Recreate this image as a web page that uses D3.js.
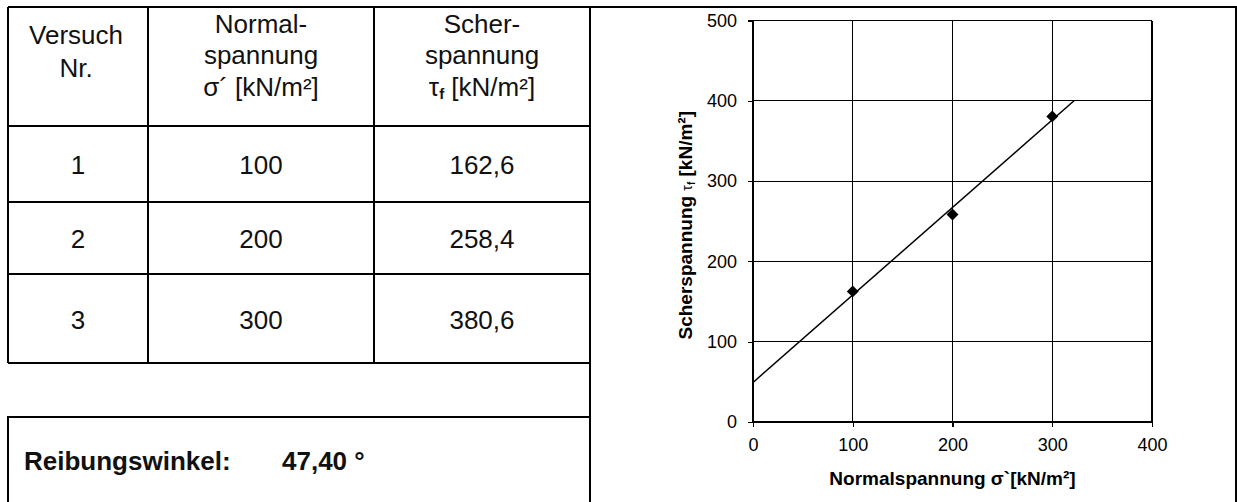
<!DOCTYPE html>
<html>
<head>
<meta charset="utf-8">
<script src="https://cdn.jsdelivr.net/npm/d3@7"></script>
<style>
  body { margin: 0; background: #fff; }
  svg { display: block; font-family: "Liberation Sans", Arial, sans-serif; }
  .frame { stroke: #000; stroke-width: 1.5; fill: none; shape-rendering: crispEdges; }
  .grid line { stroke: #000; stroke-width: 1.2; shape-rendering: crispEdges; }
  .axis path, .axis line { stroke: #000; stroke-width: 1.2; shape-rendering: crispEdges; }
  .axis text { font-size: 18px; fill: #000; }
  .cell { font-size: 26px; fill: #111; }
</style>
</head>
<body>
<svg id="chart" width="1237" height="502"></svg>
<script>
// Versuchsergebnisse (Rahmenscherversuch)
var versuchNr = ['1', '2', '3'];
var normalspannung = [100, 200, 300];
var scherspannung = [162.6, 258.4, 380.6];
var reibungswinkel = 47.40;

var headerLines = [
  ['Versuch', 'Nr.'],
  ['Normal-', 'spannung', 'σ´ [kN/m²]'],
  ['Scher-', 'spannung', 'τf [kN/m²]']
];

var xTicks = [0, 100, 200, 300, 400];
var yTicks = [0, 100, 200, 300, 400, 500];
var trendTop = 400; // Ausgleichsgerade endet bei tau = 400

var de = d3.formatLocale({decimal: ',', thousands: '.', grouping: [3], currency: ['', ' €']});
var fmt1 = de.format('.1f');
var fmt2 = de.format('.2f');

var svg = d3.select('#chart');

/*
 table
*/
var colX = [8, 148, 374, 590];
var rowY = [7, 126, 202, 274, 363];

var tbl = svg.append('g').attr('class', 'table');

// outer lines of the sheet
svg.append('line').attr('class', 'frame')
  .attr('x1', 8).attr('y1', 7).attr('x2', 1237).attr('y2', 7);
svg.append('line').attr('class', 'frame')
  .attr('x1', colX[3]).attr('y1', 7).attr('x2', colX[3]).attr('y2', 502);
svg.append('line').attr('class', 'frame')
  .attr('x1', 1236).attr('y1', 7).attr('x2', 1236).attr('y2', 502);

tbl.selectAll('.hline')
  .data(rowY)
  .enter().append('line')
  .attr('class', 'frame')
  .attr('x1', colX[0]).attr('x2', colX[3])
  .attr('y1', function(d) { return d; })
  .attr('y2', function(d) { return d; });

tbl.selectAll('.vline')
  .data(colX.slice(0, 3))
  .enter().append('line')
  .attr('class', 'frame')
  .attr('x1', function(d) { return d; })
  .attr('x2', function(d) { return d; })
  .attr('y1', rowY[0]).attr('y2', rowY[4]);

var headerBase = [[44, 77], [33, 64, 96], [33, 64, 96]];
var headerX = [76, 261, 482];

headerLines.forEach(function(lines, c) {
  lines.forEach(function(txt, i) {
    var t = tbl.append('text')
      .attr('class', 'cell')
      .attr('x', headerX[c])
      .attr('y', headerBase[c][i])
      .attr('text-anchor', 'middle');
    if (txt.indexOf('τf') === 0) {
      t.append('tspan').text('τ');
      t.append('tspan').attr('font-size', 15).attr('font-weight', 'bold').attr('dy', 3).text('f');
      t.append('tspan').attr('dy', -3).text(txt.slice(2));
    } else {
      t.text(txt);
    }
  });
});

var rows = versuchNr.map(function(nr, i) {
  return [nr, String(normalspannung[i]), fmt1(scherspannung[i])];
});

rows.forEach(function(r, i) {
  var cy = (rowY[i + 1] + rowY[i + 2]) / 2;
  r.forEach(function(txt, c) {
    tbl.append('text')
      .attr('class', 'cell')
      .attr('x', (colX[c] + colX[c + 1]) / 2)
      .attr('y', cy + 10)
      .attr('text-anchor', 'middle')
      .text(txt);
  });
});

// Reibungswinkel box
svg.append('path').attr('class', 'frame')
  .attr('d', 'M8,502V417H' + colX[3]);

svg.append('text')
  .attr('x', 24).attr('y', 470)
  .attr('font-size', 26).attr('font-weight', 'bold').attr('fill', '#111')
  .text('Reibungswinkel:');
svg.append('text')
  .attr('x', 282).attr('y', 470)
  .attr('font-size', 26).attr('font-weight', 'bold').attr('fill', '#111')
  .text(fmt2(reibungswinkel) + ' °');

/*
 diagram
*/
var x = d3.scaleLinear().domain([0, 400]).range([753, 1152]);
var y = d3.scaleLinear().domain([0, 500]).range([422, 20.5]);

var plot = svg.append('g').attr('class', 'plot');

plot.append('g').attr('class', 'grid')
  .selectAll('line.gx')
  .data(xTicks)
  .enter().append('line')
  .attr('x1', function(d) { return x(d); })
  .attr('x2', function(d) { return x(d); })
  .attr('y1', y(0)).attr('y2', y(500));

plot.select('.grid')
  .selectAll('line.gy')
  .data(yTicks)
  .enter().append('line')
  .attr('class', 'gy')
  .attr('x1', x(0)).attr('x2', x(400))
  .attr('y1', function(d) { return y(d); })
  .attr('y2', function(d) { return y(d); });

plot.append('g').attr('class', 'axis')
  .attr('transform', 'translate(0,' + y(0) + ')')
  .call(d3.axisBottom(x).tickValues(xTicks).tickSize(5).tickPadding(11).tickSizeOuter(0));

plot.append('g').attr('class', 'axis')
  .attr('transform', 'translate(' + x(0) + ',0)')
  .call(d3.axisLeft(y).tickValues(yTicks).tickSize(5).tickPadding(11).tickSizeOuter(0));

// regression line tau = c + tan(phi) * sigma
var mx = d3.mean(normalspannung), my = d3.mean(scherspannung);
var sxy = d3.sum(normalspannung, function(d, i) { return (d - mx) * (scherspannung[i] - my); });
var sxx = d3.sum(normalspannung, function(d) { return (d - mx) * (d - mx); });
var slope = sxy / sxx;
var icpt = my - slope * mx;
var trend = [[0, icpt], [(trendTop - icpt) / slope, trendTop]];

plot.append('path')
  .datum(trend)
  .attr('fill', 'none')
  .attr('stroke', '#000')
  .attr('stroke-width', 1.5)
  .attr('d', d3.line()
    .x(function(d) { return x(d[0]); })
    .y(function(d) { return y(d[1]); }));

plot.selectAll('.pt')
  .data(normalspannung)
  .enter().append('path')
  .attr('class', 'pt')
  .attr('transform', function(d, i) { return 'translate(' + x(d) + ',' + y(scherspannung[i]) + ')'; })
  .attr('d', d3.symbol().type(d3.symbolDiamond2).size(90))
  .attr('fill', '#000');

// axis titles
svg.append('text')
  .attr('x', (x(0) + x(400)) / 2).attr('y', 485)
  .attr('text-anchor', 'middle')
  .attr('font-size', 19).attr('font-weight', 'bold')
  .text('Normalspannung  σ`[kN/m²]');

var yt = svg.append('text')
  .attr('transform', 'translate(692,' + ((y(0) + y(500)) / 2 + 4) + ') rotate(-90)')
  .attr('text-anchor', 'middle')
  .attr('font-size', 19).attr('font-weight', 'bold');
yt.append('tspan').text('Scherspannung  ');
yt.append('tspan').attr('font-size', 14).attr('font-weight', 'normal').text('τ');
yt.append('tspan').attr('font-size', 10).attr('dy', 3).text('f');
yt.append('tspan').attr('dy', -3).text('  [kN/m²]');
</script>
</body>
</html>
